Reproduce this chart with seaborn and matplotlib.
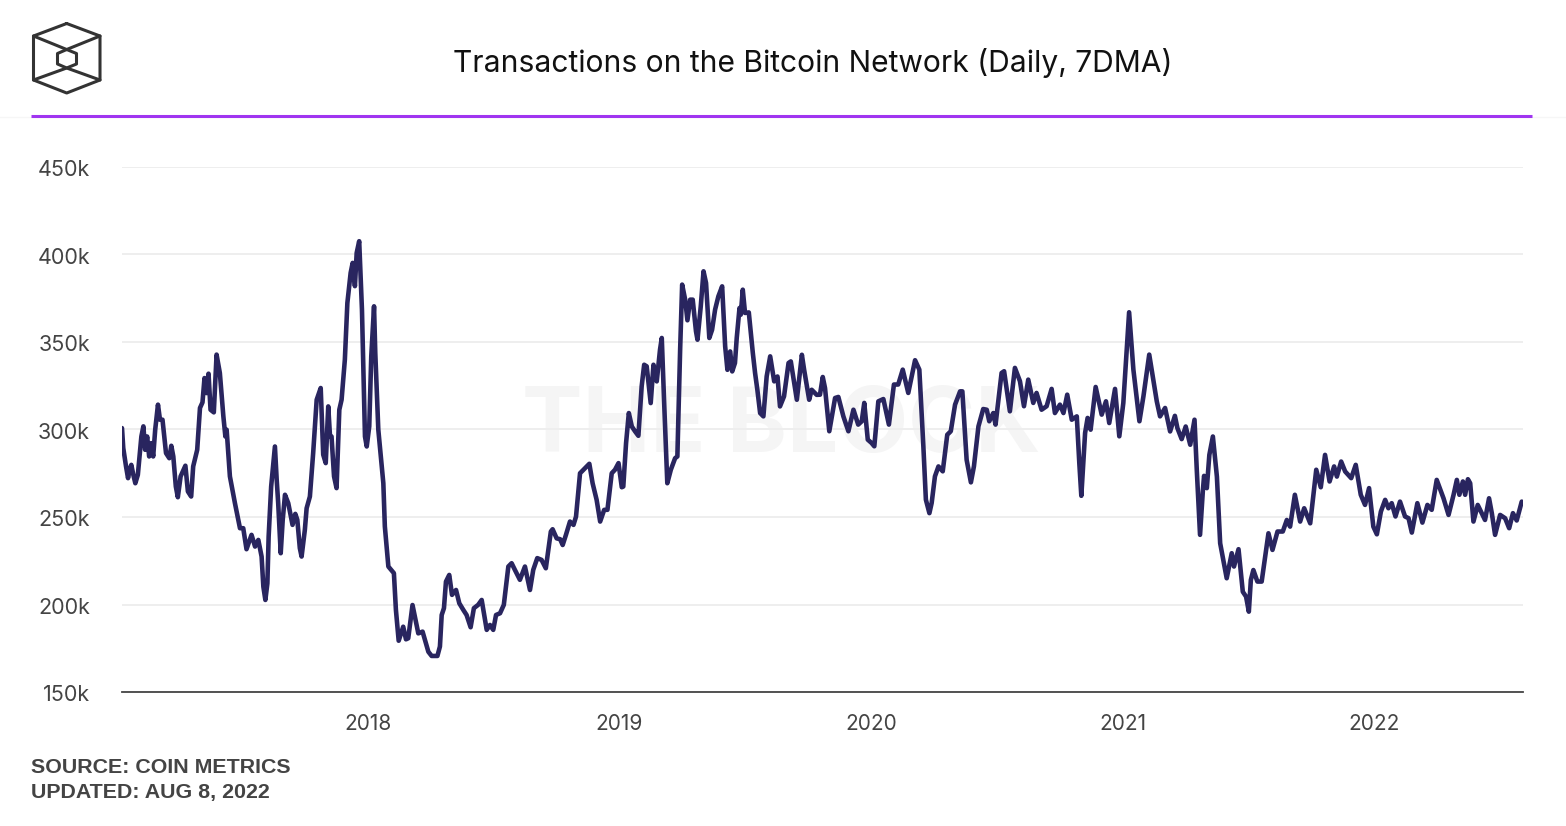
import numpy as np
import pandas as pd
import matplotlib
matplotlib.use("Agg")
import matplotlib.pyplot as plt
import matplotlib.transforms as mtrans
import seaborn as sns
from matplotlib.lines import Line2D

# Fraction of the year / daily transactions (thousands)
frac_2017 = [.022, .027, .038, .046, .054, .059, .067, .075, .085, .093, .099, .107, .114, .122, .130, .138, .146, .154,
             .165, .173, .183, .197, .210, .218, .226, .236, .244, .255, .274, .284, .297, .305, .321, .332, .342, .350,
             .358, .366, .374, .387, .398, .411, .425, .433, .438, .451, .471, .491, .504, .517, .537, .551, .564, .577,
             .584, .592, .600, .605, .615, .630, .637, .643, .653, .661, .670, .683, .700, .711, .719, .729, .736, .749,
             .756, .769, .782, .796, .812, .822, .832, .842, .849, .855, .865, .875, .886, .895, .908, .918, .931, .939,
             .948, .955, .965, .976, .988, .995]
tx_2017 = [300.8, 289.4, 278.9, 272.2, 277.9, 279.8, 274.1, 269.3, 274.1, 286.5, 296.0, 301.8, 288.4, 296.0, 284.6, 292.2,
           284.6, 299.9, 314.2, 305.6, 305.6, 286.5, 283.6, 290.7, 284.6, 267.4, 261.3, 273.2, 279.3, 264.6, 261.7, 278.9,
           288.4, 312.3, 315.5, 329.4, 320.8, 331.9, 311.3, 309.8, 342.8, 332.3, 307.5, 296.0, 299.9, 273.2, 257.9, 243.6,
           243.6, 231.6, 239.8, 233.1, 236.9, 227.4, 210.2, 202.6, 212.1, 238.8, 267.4, 290.3, 271.3, 257.9, 229.3, 248.4,
           262.7, 257.9, 245.5, 251.8, 248.4, 232.2, 227.4, 242.7, 255.0, 261.7, 286.5, 317.0, 323.7, 285.6, 280.8, 313.2,
           296.0, 296.0, 273.2, 266.5, 311.3, 317.0, 339.9, 372.3, 389.5, 395.2, 381.9, 400.9, 407.6, 368.5, 296.0, 290.3]

frac_2018 = [.005, .013, .024, .029, .041, .061, .067, .081, .103, .111, .122, .140, .151, .160, .177, .200, .217, .240,
             .253, .276, .286, .293, .302, .310, .323, .334, .350, .363, .379, .392, .408, .421, .438, .452, .472, .485,
             .498, .509, .525, .540, .558, .571, .584, .604, .624, .644, .657, .673, .690, .707, .727, .734, .750, .764,
             .774, .787, .803, .817, .827, .843, .863, .880, .893, .909, .923, .939, .952, .969, .982, .996]
tx_2018 = [301.8, 341.8, 370.4, 343.7, 299.9, 269.3, 244.6, 221.7, 217.9, 196.9, 179.3, 187.3, 180.1, 180.7, 199.7, 183.5,
           184.5, 173.0, 170.6, 170.6, 176.0, 194.0, 197.9, 213.1, 216.9, 205.5, 208.3, 200.7, 196.9, 194.0, 187.0, 197.9,
           199.8, 202.6, 185.5, 188.3, 185.5, 194.0, 195.0, 199.8, 221.7, 223.6, 219.8, 214.1, 221.7, 208.3, 219.8, 226.5,
           225.5, 220.7, 241.7, 243.0, 237.8, 237.3, 234.0, 239.8, 247.4, 245.5, 250.2, 275.0, 277.9, 280.4, 269.3, 259.8,
           247.4, 254.1, 254.1, 275.0, 277.0, 280.8]

frac_2019 = [.009, .015, .026, .037, .049, .062, .075, .088, .098, .108, .124, .135, .148, .161, .168, .177, .190, .204,
             .221, .230, .241, .249, .261, .270, .281, .291, .304, .310, .323, .334, .344, .357, .368, .380, .393, .408,
             .420, .429, .440, .448, .459, .466, .477, .482, .490, .499, .514, .530, .539, .548, .559, .572, .585, .599,
             .615, .628, .638, .654, .672, .681, .705, .725, .734, .754, .764, .784, .797, .808, .817, .834, .857, .870,
             .890, .910, .930, .949, .963, .973, .987]
tx_2019 = [267.0, 267.4, 292.2, 309.4, 301.7, 298.9, 296.4, 324.6, 337.0, 336.1, 315.1, 337.0, 327.5, 345.6, 352.3, 317.0,
           269.3, 277.0, 283.6, 284.6, 345.6, 382.8, 374.2, 362.4, 374.2, 374.2, 356.1, 351.3, 370.4, 390.4, 383.7, 352.3,
           357.0, 368.5, 376.1, 381.8, 347.5, 334.1, 344.6, 333.2, 338.0, 352.3, 369.4, 365.6, 379.9, 366.6, 366.9, 343.7,
           332.2, 322.7, 309.4, 307.5, 330.3, 341.8, 327.5, 330.3, 313.2, 318.9, 338.0, 338.9, 317.0, 342.7, 334.1, 317.0,
           322.7, 319.8, 319.9, 330.0, 323.7, 299.0, 318.0, 318.6, 307.5, 299.0, 311.3, 302.8, 304.7, 315.2, 294.2]

frac_2020 = [.002, .013, .029, .049, .071, .091, .108, .126, .148, .175, .192, .208, .218, .232, .241, .254, .268, .285,
             .303, .317, .334, .354, .363, .380, .397, .409, .427, .446, .460, .470, .486, .495, .519, .529, .552, .572,
             .592, .608, .625, .645, .658, .678, .698, .718, .731, .751, .765, .780, .798, .818, .828, .836, .844, .851,
             .861, .873, .893, .917, .934, .947, .970, .987]
tx_2020 = [292.3, 290.4, 316.1, 317.4, 302.8, 325.7, 325.7, 334.2, 320.9, 339.6, 334.2, 290.4, 259.9, 252.2, 258.0, 273.2,
           278.9, 276.1, 297.0, 299.0, 314.2, 321.8, 321.8, 282.7, 269.8, 278.9, 301.8, 311.7, 311.3, 304.7, 309.4, 302.8,
           332.3, 333.3, 310.4, 335.2, 327.6, 313.3, 328.5, 315.2, 320.9, 311.3, 313.3, 323.2, 309.4, 314.2, 309.4, 319.9,
           305.6, 307.5, 280.8, 262.1, 280.8, 298.0, 306.6, 299.9, 324.3, 308.5, 316.1, 303.7, 323.2, 296.1]

frac_2021 = [.003, .026, .043, .067, .083, .106, .122, .136, .149, .169, .189, .208, .218, .235, .251, .269, .286, .295,
             .308, .319, .324, .335, .345, .359, .375, .388, .414, .434, .443, .461, .478, .491, .502, .510, .520, .536,
             .553, .580, .596, .616, .637, .653, .666, .685, .706, .722, .746, .770, .788, .805, .823, .841, .852, .869,
             .885, .909, .927, .947, .964, .980, .997]
tx_2021 = [315.2, 367.0, 334.2, 304.7, 319.0, 342.8, 328.5, 316.1, 307.5, 312.3, 298.9, 307.8, 300.8, 294.5, 301.7, 291.3,
           305.6, 277.0, 239.8, 264.6, 273.5, 266.5, 285.5, 296.0, 273.1, 235.0, 215.0, 229.3, 221.7, 231.6, 207.3, 204.5,
           195.9, 214.0, 219.7, 213.1, 213.1, 240.7, 231.2, 241.7, 241.7, 248.3, 244.5, 262.7, 247.4, 255.0, 246.4, 277.0,
           267.0, 285.5, 270.3, 278.9, 273.1, 281.7, 276.0, 272.2, 279.8, 262.7, 256.9, 266.5, 244.5]

frac_2022 = [.011, .027, .044, .057, .070, .085, .103, .123, .137, .150, .172, .192, .212, .229, .249, .276, .296, .316,
             .329, .339, .353, .362, .373, .382, .395, .412, .428, .441, .457, .468, .481, .501, .521, .537, .552, .567,
             .587]
tx_2022 = [240.1, 253.1, 259.8, 255.0, 257.9, 250.3, 258.8, 250.3, 249.3, 241.1, 257.9, 246.8, 256.9, 254.1, 271.2, 260.7,
           251.2, 262.7, 271.2, 262.7, 270.3, 262.7, 271.6, 269.3, 247.4, 256.9, 252.2, 248.3, 260.7, 252.2, 239.8, 251.2,
           249.3, 243.6, 252.2, 248.0, 258.8]

year_ticks = [2018, 2019, 2020, 2021, 2022]
y_ticks = [150, 200, 250, 300, 350, 400, 450]

# Build the long table
parts = [(2017, frac_2017, tx_2017), (2018, frac_2018, tx_2018), (2019, frac_2019, tx_2019),
         (2020, frac_2020, tx_2020), (2021, frac_2021, tx_2021), (2022, frac_2022, tx_2022)]
df = pd.concat([pd.DataFrame({"year": y + np.array(f), "tx": v}) for y, f, v in parts], ignore_index=True)

sns.set_theme(style="white")
plt.rcParams['font.family'] = ['Inter', 'DejaVu Sans']

W, H = 1566, 826
fig = plt.figure(figsize=(W / 100, H / 100), dpi=100, facecolor="white")


def fx(px):
    return px / W


def fy(py):
    return 1 - py / H


ax = fig.add_axes([fx(122), fy(692), fx(1523) - fx(122), fy(167) - fy(692)])

# Watermark sits behind everything
ax.text(fx(781), fy(428), "THE BLOCK", transform=fig.transFigure, ha="center", va="center",
        fontsize=65.3, fontweight="bold", color="#f5f5f5", zorder=0.1)

sns.lineplot(data=df, x="year", y="tx", sort=False, errorbar=None, color="#29255f", linewidth=3.3, ax=ax, zorder=3)

ax.set_xlim(2017.022, 2022.592)
ax.set_ylim(150, 450)
ax.set_xticks(year_ticks)
ax.set_xticklabels([str(y) for y in year_ticks])
ax.set_yticks(y_ticks)
ax.set_yticklabels([f"{v}k" for v in y_ticks], va="center")
ax.set_xlabel("")
ax.set_ylabel("")
ax.grid(axis="y", color="#eeeeee", linewidth=1.4)
ax.set_axisbelow(True)
ax.set_facecolor("none")
for s in ["top", "right", "left"]:
    ax.spines[s].set_visible(False)
ax.spines["bottom"].set_color("#444444")
ax.spines["bottom"].set_linewidth(1.3)
ax.tick_params(axis="x", length=0, pad=15.5, labelsize=15, labelcolor="#444444")
ax.tick_params(axis="y", length=0, pad=23, labelsize=15.5, labelcolor="#444444")

# y labels sit a little under their gridlines
shift = mtrans.ScaledTranslation(0, -3.5 / 100, fig.dpi_scale_trans)
for lab in ax.get_yticklabels():
    lab.set_transform(lab.get_transform() + shift)

# Header
fig.text(fx(813), fy(63), "Transactions on the Bitcoin Network (Daily, 7DMA)", ha="center", va="center",
         fontsize=21.6, color="#111111")
fig.add_artist(Line2D([0, 1], [fy(117), fy(117)], color="#f6f6f6", linewidth=1, transform=fig.transFigure))
fig.add_artist(Line2D([fx(31), fx(1532)], [fy(116), fy(116)], color="#a035f0", linewidth=2.2,
                      solid_capstyle="butt", transform=fig.transFigure))

# Logo
outer = [(66.7, 23.5), (100, 36), (100, 80), (66.7, 93), (33.5, 80), (33.5, 36), (66.7, 23.5)]
inner = [(66.7, 49.5), (76.5, 53.5), (76.5, 64), (66.7, 68), (57.5, 64), (57.5, 53.5), (66.7, 49.5)]
spokes = [[(33.5, 36), (66.7, 49.5), (100, 36)], [(33.5, 80), (66.7, 68), (100, 80)]]
for pts in [outer, inner] + spokes:
    fig.add_artist(Line2D([fx(p[0]) for p in pts], [fy(p[1]) for p in pts], color="#333333", linewidth=2.2,
                          solid_joinstyle="round", transform=fig.transFigure))

# Source
fig.text(fx(31), fy(767.5), "SOURCE: COIN METRICS", ha="left", va="center", fontsize=15.4, fontweight="bold",
         family="Liberation Sans", color="#444444")
fig.text(fx(31), fy(792.5), "UPDATED: AUG 8, 2022", ha="left", va="center", fontsize=15.4, fontweight="bold",
         family="Liberation Sans", color="#444444")

fig.savefig("out.png", dpi=100)
